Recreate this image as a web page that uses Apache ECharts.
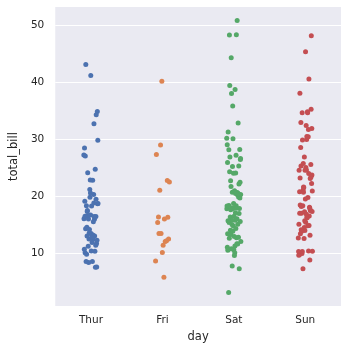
<!DOCTYPE html>
<html>
<head>
<meta charset="utf-8">
<script src="https://cdn.jsdelivr.net/npm/echarts@6/dist/echarts.min.js"></script>
<style>
  html, body { margin: 0; padding: 0; background: #ffffff; }
  #chart { width: 348px; height: 348px; }
</style>
</head>
<body>
<div id="chart"></div>
<script>
// Restaurant bills grouped by day of the week
const days = ['Thur', 'Fri', 'Sat', 'Sun'];

const thurBills = [27.20, 22.76, 17.29, 19.44, 16.66, 10.07, 32.68, 15.98, 34.83, 13.03, 18.28, 24.71, 21.16,
  10.65, 12.43, 24.08, 11.69, 13.42, 14.26, 15.95, 12.48, 29.80, 8.52, 14.52, 11.38, 22.82, 19.08, 20.27,
  11.17, 12.26, 18.26, 8.51, 10.33, 14.15, 16.00, 13.16, 17.47, 34.30, 41.19, 27.05, 16.43, 8.35, 18.64,
  11.87, 9.78, 7.51, 19.81, 28.44, 15.48, 16.58, 7.56, 10.34, 43.11, 13.00, 13.51, 18.71, 12.74, 13.00,
  16.40, 20.53, 16.47, 18.78];

const friBills = [28.97, 22.49, 5.75, 16.32, 22.75, 40.17, 27.28, 12.03, 21.01, 12.46, 11.35, 15.38,
  12.16, 13.42, 8.58, 15.98, 13.42, 16.27, 10.09];

const satBills = [20.65, 17.92, 20.29, 15.77, 39.42, 19.82, 17.81, 13.37, 12.69, 21.70, 19.65, 9.55,
  18.35, 15.06, 20.69, 17.78, 24.06, 16.31, 16.93, 18.69, 31.27, 16.04,
  38.01, 26.41, 11.24, 48.27, 20.29, 13.81, 11.02, 18.29, 17.59, 20.08, 16.45, 3.07, 20.23, 15.01,
  12.02, 17.07, 26.86, 25.28, 14.73, 10.51, 17.92,
  44.30, 22.42, 20.92, 15.36, 20.49, 25.21, 18.24, 14.31, 14.00, 7.25,
  10.59, 10.63, 50.81, 15.81,
  26.59, 38.73, 24.27, 12.76, 30.06, 25.89, 48.33, 13.27, 28.17, 12.90, 28.15, 11.59, 7.74, 30.14,
  20.45, 13.28, 22.12, 24.01, 15.69, 11.61, 10.77, 15.53, 10.07, 12.60, 32.83, 35.83, 29.03, 27.18,
  22.67, 17.82];

const sunBills = [16.99, 10.34, 21.01, 23.68, 24.59, 25.29, 8.77, 26.88, 15.04, 14.78, 10.27, 35.26,
  15.42, 18.43, 14.83, 21.58, 10.33, 16.29, 16.97,
  17.46, 13.94, 9.68, 30.40, 18.29, 22.23, 32.40, 28.55, 18.04, 12.54, 10.29, 34.81, 9.94, 25.56, 19.49,
  38.07, 23.95, 25.71, 17.31, 29.93,
  14.07, 13.13, 17.26, 24.55, 19.77, 29.85, 48.17, 25.00, 13.39, 16.49, 21.50, 12.66, 16.21, 13.81,
  17.51, 24.52, 20.76, 31.71,
  7.25, 31.85, 16.82, 32.90, 17.89, 14.48, 9.60, 34.63, 34.65, 23.33, 45.35, 23.17, 40.55, 20.69,
  20.90, 30.46, 18.15, 23.10, 15.69];

const yTicks = [10, 20, 30, 40, 50];

const groups = [thurBills, friBills, satBills, sunBills];
const palette = ['#4C72B0', '#DD8452', '#55A868', '#C44E52'];

// Axis limits with a 5% margin around the data
const all = groups.flat();
const lo = Math.min(...all), hi = Math.max(...all);
const pad = (hi - lo) * 0.05;

// Deterministic horizontal spread of the strip points (±0.1 of a category)
function spread(i, k) {
  const f = (i * 0.6180339887 + k * 0.37) % 1;
  return (f - 0.5) * 0.2;
}

const textColor = '#262626';
const font = 'DejaVu Sans';

const pointSeries = groups.map((vals, k) => ({
  type: 'scatter',
  name: days[k],
  symbolSize: 5,
  itemStyle: { color: palette[k], opacity: 1 },
  z: 3,
  silent: true,
  data: vals.map((v, i) => [k + spread(i, k), v])
}));

// White horizontal grid lines, kept beneath the points
const gridSeries = {
  type: 'scatter',
  data: [],
  z: 1,
  silent: true,
  markLine: {
    z: 1,
    silent: true,
    symbol: 'none',
    animation: false,
    label: { show: false },
    lineStyle: { color: '#ffffff', width: 1, type: 'solid' },
    data: yTicks.map(t => ({ yAxis: t }))
  }
};

const chart = echarts.init(document.getElementById('chart'), null, { renderer: 'canvas' });
chart.setOption({
  animation: false,
  backgroundColor: '#ffffff',
  grid: {
    left: 44, right: 7, top: 7, bottom: 41,
    show: true, backgroundColor: '#EAEAF2', borderWidth: 0
  },
  xAxis: {
    type: 'value',
    min: -0.5, max: 3.5,
    name: 'day',
    nameLocation: 'middle',
    nameGap: 23,
    nameTextStyle: { color: textColor, fontSize: 11.5, fontFamily: font },
    axisLine: { show: false },
    axisTick: { show: false },
    splitLine: { show: false },
    axisLabel: {
      customValues: [0, 1, 2, 3],
      formatter: v => days[Math.round(v)],
      color: textColor, fontSize: 10.5, fontFamily: font, margin: 9
    }
  },
  yAxis: {
    type: 'value',
    min: lo - pad, max: hi + pad,
    name: 'total_bill',
    nameLocation: 'middle',
    nameGap: 28,
    nameTextStyle: { color: textColor, fontSize: 11.5, fontFamily: font },
    axisLine: { show: false },
    axisTick: { show: false },
    splitLine: { show: false },
    axisLabel: {
      customValues: yTicks,
      color: textColor, fontSize: 10.5, fontFamily: font, margin: 11
    }
  },
  series: [gridSeries, ...pointSeries]
});
</script>
</body>
</html>
